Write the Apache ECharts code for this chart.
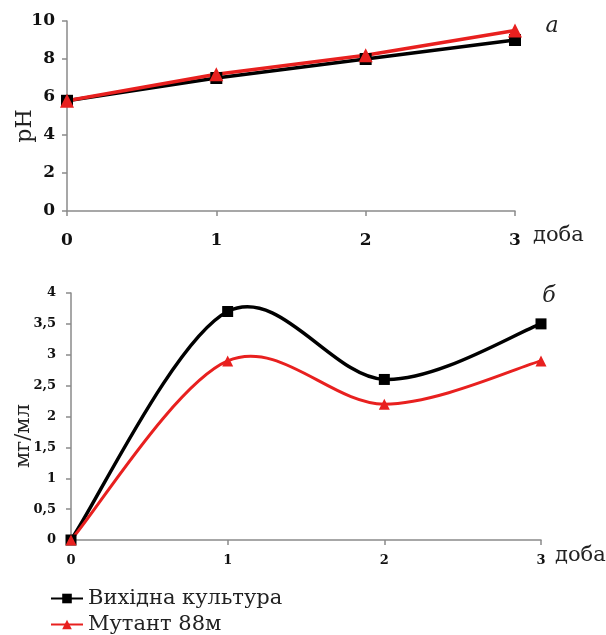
<!DOCTYPE html>
<html><head><meta charset="utf-8">
<script src="https://cdn.jsdelivr.net/npm/echarts@6/dist/echarts.min.js"></script>
<style>html,body{margin:0;padding:0;background:#fff}#c{width:606px;height:635px}</style>
</head><body><div id="c"></div>
<script>
const days = [0, 1, 2, 3];
const phBase = [5.8, 7.0, 8.0, 9.0];
const phMutant = [5.8, 7.2, 8.2, 9.5];
const mgBase = [0, 3.7, 2.6, 3.5];
const mgMutant = [0, 2.9, 2.2, 2.9];
const phTicks = [0, 2, 4, 6, 8, 10];
const mgTicks = ['0', '0,5', '1', '1,5', '2', '2,5', '3', '3,5', '4'];
const seriesNames = ['Вихідна культура', 'Мутант 88м'];

const pairs = (xs, ys) => xs.map((x, i) => [x, ys[i]]);
const serif = 'DejaVu Serif';
const BLACK = '#000', RED = '#e8201f';
const axisLine = {show: true, lineStyle: {color: '#8a8a8a', width: 1.5}};
const axisTick = {show: true, length: 5, lineStyle: {color: '#8a8a8a', width: 1.5}};

// Excel-like smooth curve (Catmull-Rom bezier) drawn through the axes' scales
function smoothSeries(data, color, width) {
  return {
    type: 'custom', xAxisIndex: 1, yAxisIndex: 1, z: 2, silent: true,
    data: data,
    renderItem: function (params, api) {
      const i = params.dataIndex;
      if (i >= data.length - 1) return null;
      const P = k => api.coord(data[Math.max(0, Math.min(data.length - 1, k))]);
      const p0 = P(i - 1), p1 = P(i), p2 = P(i + 1), p3 = P(i + 2);
      return {
        type: 'bezierCurve',
        shape: {
          x1: p1[0], y1: p1[1], x2: p2[0], y2: p2[1],
          cpx1: p1[0] + (p2[0] - p0[0]) / 6, cpy1: p1[1] + (p2[1] - p0[1]) / 6,
          cpx2: p2[0] - (p3[0] - p1[0]) / 6, cpy2: p2[1] - (p3[1] - p1[1]) / 6
        },
        style: {stroke: color, lineWidth: width, fill: 'none', lineCap: 'round'}
      };
    }
  };
}

const chart = echarts.init(document.getElementById('c'), null, {renderer: 'canvas'});
chart.setOption({
  animation: false,
  backgroundColor: '#fff',
  grid: [
    {left: 67, top: 21, width: 448, height: 190},
    {left: 71, top: 293, width: 470, height: 247}
  ],
  xAxis: [
    {gridIndex: 0, type: 'value', min: 0, max: 3, interval: 1, axisLine, axisTick, splitLine: {show: false},
     axisLabel: {margin: 21, fontFamily: serif, fontWeight: 'bold', fontSize: 17, color: '#111'}},
    {gridIndex: 1, type: 'value', min: 0, max: 3, interval: 1, axisLine, axisTick, splitLine: {show: false},
     axisLabel: {margin: 14, fontFamily: serif, fontWeight: 'bold', fontSize: 13, color: '#111'}}
  ],
  yAxis: [
    {gridIndex: 0, type: 'value', min: 0, max: 10, interval: 2, axisLine, axisTick, splitLine: {show: false},
     axisLabel: {margin: 12, fontFamily: serif, fontWeight: 'bold', fontSize: 17, color: '#111',
       formatter: v => phTicks.includes(v) ? String(v) : ''}},
    {gridIndex: 1, type: 'value', min: 0, max: 4, interval: 0.5, axisLine, axisTick, splitLine: {show: false},
     axisLabel: {margin: 15, fontFamily: serif, fontWeight: 'bold', fontSize: 13, color: '#111',
       formatter: v => mgTicks[Math.round(v * 2)]}}
  ],
  legend: [
    {left: 45, top: 583, itemWidth: 32, itemHeight: 12, itemGap: 6, data: [seriesNames[0]],
     textStyle: {fontFamily: serif, fontSize: 21, color: '#222'}},
    {left: 45, top: 609, itemWidth: 32, itemHeight: 12, itemGap: 6, data: [seriesNames[1]],
     textStyle: {fontFamily: serif, fontSize: 21, color: '#222'}}
  ],
  series: [
    {name: seriesNames[0], type: 'line', xAxisIndex: 0, yAxisIndex: 0, data: pairs(days, phBase),
     symbol: 'rect', symbolSize: 12, lineStyle: {color: BLACK, width: 3.5}, itemStyle: {color: BLACK}},
    {name: seriesNames[1], type: 'line', xAxisIndex: 0, yAxisIndex: 0, data: pairs(days, phMutant),
     symbol: 'triangle', symbolSize: 14, lineStyle: {color: RED, width: 3.5}, itemStyle: {color: RED}},
    smoothSeries(pairs(days, mgBase), BLACK, 3.5),
    smoothSeries(pairs(days, mgMutant), RED, 3),
    {name: seriesNames[0], type: 'line', xAxisIndex: 1, yAxisIndex: 1, data: pairs(days, mgBase), z: 3,
     symbol: 'rect', symbolSize: 11, lineStyle: {width: 0, opacity: 0}, itemStyle: {color: BLACK}},
    {name: seriesNames[1], type: 'line', xAxisIndex: 1, yAxisIndex: 1, data: pairs(days, mgMutant), z: 3,
     symbol: 'triangle', symbolSize: 11, lineStyle: {width: 0, opacity: 0}, itemStyle: {color: RED}}
  ],
  graphic: [
    {type: 'text', x: 25, y: 126, rotation: Math.PI / 2, style: {text: 'pH', font: '22px "DejaVu Serif"', fill: '#222', align: 'center', verticalAlign: 'middle'}},
    {type: 'text', x: 24, y: 436, rotation: Math.PI / 2, style: {text: 'мг/мл', font: '21px "DejaVu Serif"', fill: '#222', align: 'center', verticalAlign: 'middle'}},
    {type: 'text', x: 533, y: 236, style: {text: 'доба', font: '21px "DejaVu Serif"', fill: '#222', align: 'left', verticalAlign: 'middle'}},
    {type: 'text', x: 555, y: 556, style: {text: 'доба', font: '21px "DejaVu Serif"', fill: '#222', align: 'left', verticalAlign: 'middle'}},
    {type: 'text', x: 552, y: 26, style: {text: 'а', font: 'italic 22px "DejaVu Serif"', fill: '#222', align: 'center', verticalAlign: 'middle'}},
    {type: 'text', x: 549, y: 296, style: {text: 'б', font: 'italic 22px "DejaVu Serif"', fill: '#222', align: 'center', verticalAlign: 'middle'}}
  ]
});
</script></body></html>
